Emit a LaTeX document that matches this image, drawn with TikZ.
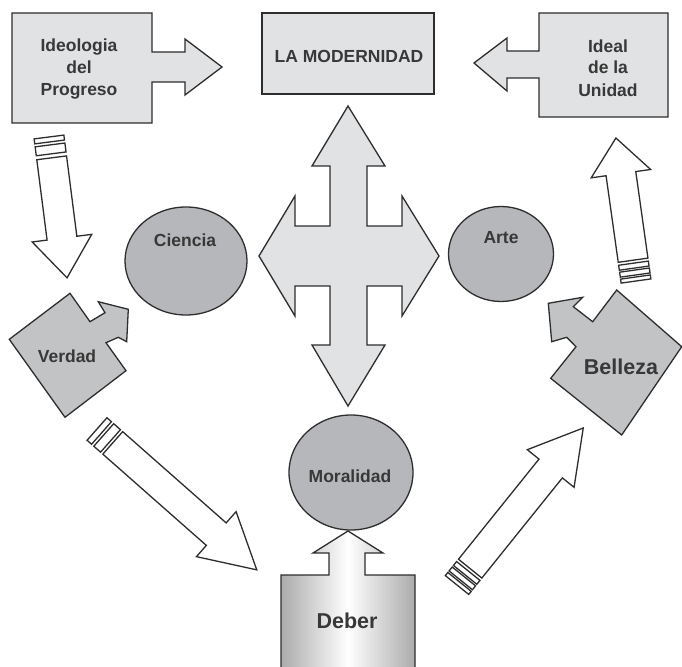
\documentclass[tikz,border=0pt]{standalone}
\usepackage{fontspec}
\setmainfont{Liberation Sans}
\definecolor{outc}{HTML}{2E2E2E}
\definecolor{boxc}{HTML}{E1E2E4}
\definecolor{ellc}{HTML}{B6B7BA}
\definecolor{sqc}{HTML}{C2C3C5}
\definecolor{txtc}{HTML}{383838}
\definecolor{debc}{HTML}{ABABAB}
% striped outline arrow: tail point, angle, length, head length, bands
\newcommand\stripearrow[5]{%
  \begin{scope}[shift={(#1)}, rotate=#2]
    \foreach \a/\b in {#5} {\path[arrline] (\a,-15) -- (\b,-15) -- (\b,15) -- (\a,15) -- cycle;}
    \path[arrline] (21,-15) -- ({#3-#4},-15) -- ({#3-#4},-30) -- (#3,0) -- ({#3-#4},30) -- ({#3-#4},15) -- (21,15) -- cycle;
  \end{scope}}
\begin{document}
\begin{tikzpicture}[x=1pt,y=-1pt, line join=miter,
  outl/.style={draw=outc, line width=1.3pt},
  lightshape/.style={outl, fill=boxc},
  ellshape/.style={outl, fill=ellc},
  sqshape/.style={outl, fill=sqc},
  arrline/.style={outl, fill=white},
  lbl/.style={text=txtc, font=\bfseries\fontsize{17.5}{20}\selectfont, inner sep=0pt, anchor=base},
  biglbl/.style={lbl, font=\bfseries\fontsize{21.5}{24}\selectfont}]
\useasboundingbox (0,0) rectangle (682,666);
\clip (0,0) rectangle (682,666);
\fill[white] (0,0) rectangle (682,666);

% Ideologia del Progreso box with arrow
\path[lightshape] (12,13) -- (152,13) -- (152,52) -- (185,52) -- (185,39) -- (222,67)
  -- (185,95) -- (185,82) -- (152,82) -- (152,123) -- (12,123) -- cycle;
% LA MODERNIDAD box
\path[lightshape] (262,13) -- (434,13) -- (434,94) -- (262,94) -- cycle;
% Ideal de la Unidad box with arrow
\path[lightshape] (539,13) -- (668,13) -- (668,117) -- (539,117) -- (539,78) -- (507,78)
  -- (507,91) -- (474,63) -- (507,38) -- (507,51) -- (539,51) -- cycle;

% central four-way arrow
\path[lightshape] (348,106) -- (385,166) -- (367,166) -- (367,226) -- (402,226) -- (402,196)
  -- (439,256) -- (402,316) -- (402,286) -- (367,286) -- (367,345) -- (385,345) -- (348,406)
  -- (312,345) -- (330,345) -- (330,286) -- (295,286) -- (295,316) -- (259,256) -- (295,196)
  -- (295,226) -- (330,226) -- (330,166) -- (312,166) -- cycle;

% ellipses
\path[ellshape] (186,261) ellipse [x radius=61, y radius=54];
\path[ellshape] (501,254) ellipse [x radius=52.5, y radius=47.5];
\path[ellshape] (351,472.5) ellipse [x radius=62, y radius=57.5];

% Verdad
\path[sqshape] (9.3,339.3) -- (70,293.3) -- (90,321.7) -- (105,312.7) -- (98.3,301.7)
  -- (128.3,309.3) -- (126.7,341.7) -- (118.3,337.3) -- (106,342.7) -- (126,370.7)
  -- (65,417.3) -- cycle;
% Belleza
\path[sqshape] (616.7,290) -- (681.7,346.7) -- (621.7,435) -- (550.7,378.3) -- (576,346.7)
  -- (566.7,337.3) -- (551.7,341.7) -- (548.3,303.3) -- (582.7,297.3) -- (573.3,306.7)
  -- (592.7,321.7) -- cycle;

% Deber with arrow
\path[outl, left color=debc, right color=debc, middle color=white]
  (281,690) -- (281,575) -- (329,575) -- (329,553) -- (313,553) -- (348,531) -- (383,553)
  -- (365,553) -- (365,575) -- (415,575) -- (415,690) -- cycle;

% striped arrows
\stripearrow{49,137}{-82.7}{142}{40}{0/5,8/17}
\stripearrow{97,429}{-41.4}{213}{54}{0/6,9/18}
\stripearrow{457,585}{51.2}{201.5}{52}{0/4,6/11,13/18}
\stripearrow{636,281}{98}{144.4}{36}{0/4,6/11,13/18}

% labels
\node[lbl] (t1) at (79,52) {Ideologia};
\node[lbl] (t2) at (79,74) {del};
\node[lbl] (t3) at (79,96) {Progreso};
\node[lbl] (t4) at (349,63) {LA MODERNIDAD};
\node[lbl] (t5) at (608,53) {Ideal};
\node[lbl] (t6) at (608,74) {de la};
\node[lbl] (t7) at (608,97) {Unidad};
\node[lbl] (t8) at (185,246) {Ciencia};
\node[lbl] (t9) at (501,243) {Arte};
\node[lbl] (t10) at (67,362) {Verdad};
\node[biglbl] (t11) at (621,374) {Belleza};
\node[lbl] (t12) at (350,482) {Moralidad};
\node[biglbl] (t13) at (347,628) {Deber};
\end{tikzpicture}
\end{document}
